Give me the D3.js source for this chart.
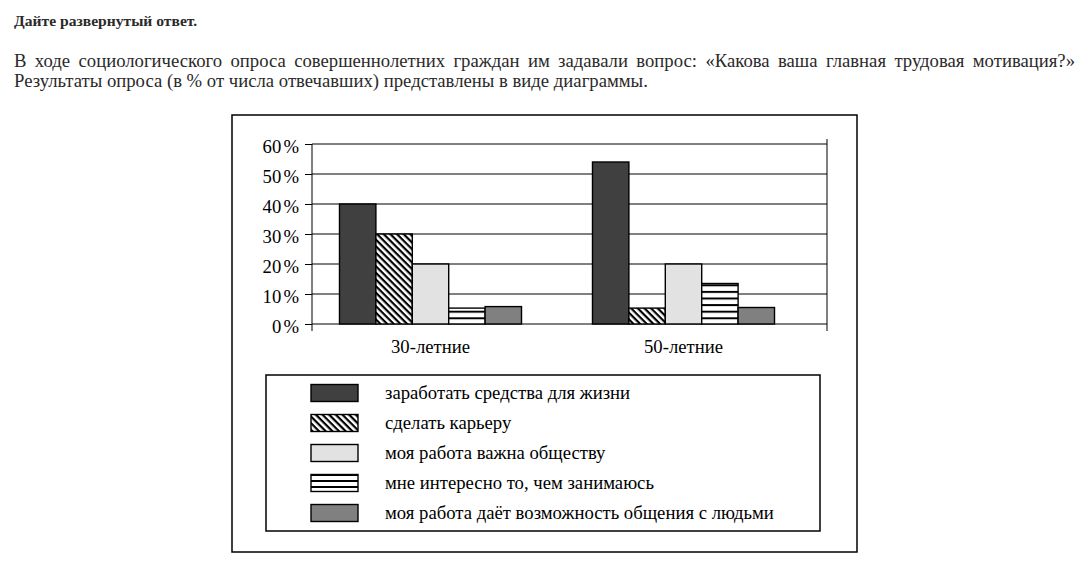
<!DOCTYPE html>
<html><head><meta charset="utf-8">
<script src="https://cdn.jsdelivr.net/npm/d3@7"></script>
<style>
html,body{margin:0;padding:0;background:#fff;}
svg{display:block;}
</style></head>
<body>
<script>
const titleText = "Дайте развернутый ответ.";
const paraLines = [
  "В ходе социологического опроса совершеннолетних граждан им задавали вопрос: «Какова ваша главная трудовая мотивация?»",
  "Результаты опроса (в % от числа отвечавших) представлены в виде диаграммы."
];
const categories = ["30-летние", "50-летние"];
const seriesNames = [
  "заработать средства для жизни",
  "сделать карьеру",
  "моя работа важна обществу",
  "мне интересно то, чем занимаюсь",
  "моя работа даёт возможность общения с людьми"
];
const values30 = [40, 30, 20, 5.3, 5.8];
const values50 = [54, 5.3, 20, 13.5, 5.5];
const yTicks = [0, 10, 20, 30, 40, 50, 60];
const yTickLabels = ["0", "10", "20", "30", "40", "50", "60"];
const yTickUnit = "%";

const W = 1091, H = 573;
const FONT = '"Liberation Serif", "Times New Roman", serif';
const FS = 18.7;
const svg = d3.select("body").append("svg").attr("width", W).attr("height", H)
  .style("font-family", FONT);

// patterns
const defs = svg.append("defs");
const diag = defs.append("pattern").attr("id", "diag").attr("patternUnits", "userSpaceOnUse")
  .attr("width", 4.7).attr("height", 4.7).attr("patternTransform", "rotate(45)");
diag.append("rect").attr("width", 4.7).attr("height", 4.7).attr("fill", "#fff");
diag.append("rect").attr("x", 0).attr("y", 0).attr("width", 4.7).attr("height", 2.2).attr("fill", "#000");
const hstr = defs.append("pattern").attr("id", "hstr").attr("patternUnits", "userSpaceOnUse")
  .attr("width", 10).attr("height", 6.6).attr("y", 0.5);
hstr.append("rect").attr("width", 10).attr("height", 6.6).attr("fill", "#fff");
hstr.append("rect").attr("x", 0).attr("y", 0).attr("width", 10).attr("height", 2).attr("fill", "#000");
const hstrL = defs.append("pattern").attr("id", "hstrL").attr("patternUnits", "userSpaceOnUse")
  .attr("width", 10).attr("height", 6).attr("y", 3);
hstrL.append("rect").attr("width", 10).attr("height", 6).attr("fill", "#fff");
hstrL.append("rect").attr("x", 0).attr("y", 0).attr("width", 10).attr("height", 2).attr("fill", "#000");

const fills = ["#404040", "url(#diag)", "#e2e2e2", "url(#hstr)", "#808080"];
const legendFills = ["#404040", "url(#diag)", "#e2e2e2", "url(#hstrL)", "#808080"];

// header text
svg.append("text").attr("x", 14).attr("y", 25.5)
  .style("font-size", "15.6px").style("font-weight", "bold").attr("fill", "#2a2a2a")
  .text(titleText);

function justifyLine(str, x0, x1, y) {
  const words = str.split(" ");
  const g = svg.append("g").style("font-size", FS + "px").attr("fill", "#2a2a2a");
  const nodes = words.map(w => g.append("text").attr("y", y).text(w));
  const widths = nodes.map(n => n.node().getComputedTextLength());
  const total = d3.sum(widths);
  const gap = (x1 - x0 - total) / (words.length - 1);
  let x = x0;
  nodes.forEach((n, i) => { n.attr("x", x); x += widths[i] + gap; });
}
justifyLine(paraLines[0], 14, 1075, 66.7);
svg.append("text").attr("x", 14).attr("y", 86.7)
  .style("font-size", FS + "px").attr("fill", "#2a2a2a").text(paraLines[1]);

// frame
svg.append("rect").attr("x", 232).attr("y", 115).attr("width", 625).attr("height", 437)
  .attr("fill", "none").attr("stroke", "#000").attr("stroke-width", 1.5);

// scales
const plotL = 312, plotR = 827;
const y = d3.scaleLinear().domain([0, 60]).range([324, 144]);
const x0 = d3.scaleBand().domain(categories).range([304, 810]).padding(0);
const x1 = d3.scaleBand().domain(d3.range(seriesNames.length)).range([0, x0.bandwidth()])
  .paddingInner(0).paddingOuter(0.975);

// gridlines
svg.append("g").selectAll("line").data(yTicks).join("line")
  .attr("x1", plotL).attr("x2", plotR)
  .attr("y1", d => y(d)).attr("y2", d => y(d))
  .attr("stroke", "#000").attr("stroke-width", 1);

// right line
svg.append("line").attr("x1", plotR).attr("x2", plotR).attr("y1", y(60) - 5).attr("y2", y(0) + 7)
  .attr("stroke", "#000").attr("stroke-width", 1);

// y axis
const yAxis = d3.axisLeft(y).tickValues(yTicks).tickSize(7).tickPadding(5)
  .tickFormat((d, i) => yTickLabels[i]);
const ga = svg.append("g").attr("transform", `translate(${plotL},0)`).call(yAxis);
ga.attr("font-family", null).attr("font-size", null);
ga.select(".domain").remove();
ga.selectAll(".tick line").attr("stroke", "#000");
ga.selectAll(".tick text").style("font-size", FS + "px").attr("fill", "#000")
  .attr("dy", "8").attr("dx", "-1")
  .append("tspan").attr("dx", 2.2).text(yTickUnit);
svg.append("line").attr("x1", plotL).attr("x2", plotL).attr("y1", y(60)).attr("y2", y(0) + 7)
  .attr("stroke", "#000").attr("stroke-width", 1);

// bars
const data = categories.map((c, i) => ({ cat: c, vals: i === 0 ? values30 : values50 }));
const groups = svg.append("g").selectAll("g").data(data).join("g")
  .attr("transform", d => `translate(${x0(d.cat)},0)`);
groups.selectAll("rect").data(d => d.vals.map((v, i) => ({ v, i }))).join("rect")
  .attr("x", d => x1(d.i)).attr("width", x1.bandwidth())
  .attr("y", d => y(d.v)).attr("height", d => y(0) - y(d.v))
  .attr("fill", d => fills[d.i]).attr("stroke", "#000").attr("stroke-width", 1.4);

// category labels
svg.append("g").selectAll("text").data(categories).join("text")
  .attr("x", d => x0(d) + x0.bandwidth() / 2).attr("y", 353)
  .attr("text-anchor", "middle").style("font-size", FS + "px").attr("fill", "#000")
  .text(d => d);

// legend
svg.append("rect").attr("x", 266).attr("y", 375).attr("width", 554).attr("height", 156)
  .attr("fill", "none").attr("stroke", "#000").attr("stroke-width", 1.5);
const ly = d3.scalePoint().domain(d3.range(seriesNames.length)).range([393, 513]);
const lg = svg.append("g").selectAll("g").data(seriesNames).join("g")
  .attr("transform", (d, i) => `translate(0,${ly(i)})`);
lg.append("rect").attr("x", 311).attr("y", -8.5).attr("width", 47).attr("height", 17)
  .attr("fill", (d, i) => legendFills[i]).attr("stroke", "#000").attr("stroke-width", 1.4);
lg.append("text").attr("x", 385).attr("y", 6.3)
  .style("font-size", FS + "px").attr("fill", "#000").text(d => d);
</script>
</body></html>
